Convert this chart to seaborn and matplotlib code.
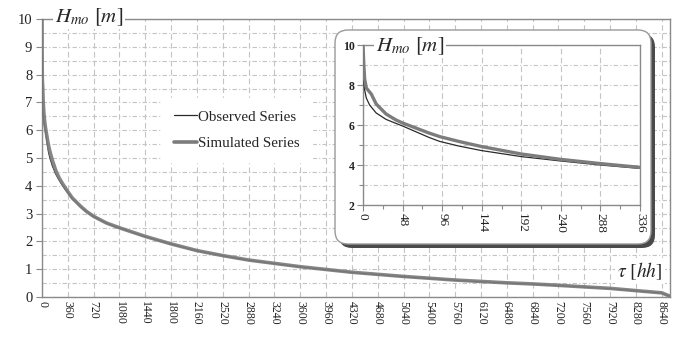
import matplotlib
matplotlib.use("Agg")
import numpy as np
import pandas as pd
import matplotlib.pyplot as plt
import seaborn as sns
from matplotlib.patches import FancyBboxPatch
from matplotlib.lines import Line2D
from matplotlib.ticker import MultipleLocator

# ---------------- data ----------------
hours = [0, 1, 2, 4, 8, 10, 16, 28, 40, 48, 80, 93, 116, 144, 192, 240, 288, 336,
         360, 420, 540, 620, 720, 900, 1080, 1440, 1800, 2160, 2520, 2880, 3240,
         3600, 4320, 5040, 5760, 6480, 6840, 7200, 7920, 8280, 8640, 8760]
observed = [8.67, 8.1, 7.75, 7.35, 7.0, 6.9, 6.6, 6.28, 6.08, 5.95, 5.38, 5.18, 4.95,
            4.72, 4.42, 4.2, 4.0, 3.83,
            3.75, 3.54, 3.24, 3.07, 2.89, 2.65, 2.48, 2.17, 1.9, 1.66, 1.48, 1.32, 1.2,
            1.08, 0.88, 0.73, 0.6, 0.5, 0.46, 0.41, 0.3, 0.22, 0.14, 0.02]
simulated = [10.0, 9.0, 8.3, 7.85, 7.65, 7.55, 7.05, 6.55, 6.25, 6.1, 5.6, 5.42, 5.18,
             4.92, 4.55, 4.28, 4.07, 3.88,
             3.79, 3.57, 3.26, 3.08, 2.9, 2.66, 2.49, 2.18, 1.91, 1.67, 1.49, 1.33, 1.21,
             1.09, 0.89, 0.74, 0.61, 0.51, 0.47, 0.42, 0.31, 0.23, 0.15, 0.02]
series_names = ["Observed Series", "Simulated Series"]
main_xticks = list(range(0, 8641, 360))
main_yticks = list(range(0, 11))
inset_xticks = list(range(0, 337, 48))
inset_yticks = [2, 4, 6, 8, 10]
y_label = r"$H_{mo}\ [m]$"
x_label = r"$\tau\ [hh]$"

# ---------------- style ----------------
sns.set_style("white")
plt.rcParams['font.family'] = ['Liberation Serif', 'DejaVu Serif']
plt.rcParams['mathtext.fontset'] = 'stix'

n = len(hours)
df = pd.DataFrame({
    "hours": hours * 2,
    "H": observed + simulated,
    "series": [series_names[0]] * n + [series_names[1]] * n,
})
palette = {series_names[0]: "#2a2a2a", series_names[1]: "#7c7c7c"}
widths = {series_names[0]: 0.9, series_names[1]: 2.6}
order = [series_names[0], series_names[1]]  # observed first, simulated on top

W, H = 683, 338
fig = plt.figure(figsize=(W / 100, H / 100), dpi=100)
fig.patch.set_facecolor("white")

spine_col = "#8a8a8a"
grid_col = "#c4c4c4"

# ---------------- main axes ----------------
ax = fig.add_axes([42 / W, 41 / H, 628.4 / W, 278 / H])
for name in order:
    sns.lineplot(data=df[df.series == name], x="hours", y="H", color=palette[name],
                 linewidth=widths[name], ax=ax, legend=False, zorder=3,
                 alpha=0.92 if name == series_names[1] else 1.0)
ax.set_xlim(0, 8760)
ax.set_ylim(0, 10)
ax.set_xticks(main_xticks)
ax.set_yticks(main_yticks)
ax.yaxis.set_minor_locator(MultipleLocator(0.5))
ax.set_xlabel("")
ax.set_ylabel("")
ax.grid(axis="x", which="major", color=grid_col, ls=(0, (5, 3)), lw=0.8)
ax.grid(axis="y", which="both", color=grid_col, ls=(0, (4, 2, 1, 2)), lw=0.8)
ax.tick_params(axis="x", labelrotation=-90, labelsize=8.5, length=0, pad=3, colors="#222222")
ax.tick_params(axis="y", which="major", labelsize=10.5, length=4, width=0.8, color=spine_col,
               pad=3, labelcolor="#222222", left=True)
ax.tick_params(axis="y", which="minor", length=0)
for s in ax.spines.values():
    s.set_color(spine_col)
    s.set_linewidth(1.0)

handles = [Line2D([], [], color=palette[series_names[0]], lw=widths[series_names[0]]),
           Line2D([], [], color=palette[series_names[1]], lw=widths[series_names[1]])]
leg = ax.legend(handles, series_names, loc="center", bbox_to_anchor=(0.31, 0.60),
                frameon=True, fancybox=False, facecolor="white", edgecolor="white",
                fontsize=10.8, handlelength=1.55, handletextpad=0.08, labelspacing=0.87,
                borderpad=0.8, framealpha=1.0)
leg.set_zorder(4)

fig.text(89 / W, 1 - 17 / H, y_label, ha="center", va="center", fontsize=15,
         bbox=dict(facecolor="white", edgecolor="none", pad=1.0), zorder=3)
fig.text(640 / W, 1 - 271 / H, x_label, ha="center", va="center", fontsize=14,
         bbox=dict(facecolor="white", edgecolor="none", pad=1.5), zorder=3)

# ---------------- inset box with shadow ----------------
bx0, by0, bw, bh = 335 / 100, (H - 244) / 100, 316 / 100, 214 / 100
shadow = FancyBboxPatch((bx0 + 0.04, by0 - 0.04), bw, bh,
                        boxstyle="round,pad=0,rounding_size=0.13",
                        transform=fig.dpi_scale_trans, facecolor="#4a4a4a",
                        edgecolor="none", zorder=2)
box = FancyBboxPatch((bx0, by0), bw, bh, boxstyle="round,pad=0,rounding_size=0.13",
                     transform=fig.dpi_scale_trans, facecolor="white",
                     edgecolor="#9a9a9a", lw=1.0, zorder=3)
fig.add_artist(shadow)
fig.add_artist(box)

# ---------------- inset axes ----------------
ax2 = fig.add_axes([363 / W, 133 / H, 277 / W, 160 / H])
ax2.set_zorder(5)
ax2.set_facecolor("white")
sub = df[df.hours <= 336]
for name in order:
    sns.lineplot(data=sub[sub.series == name], x="hours", y="H", color=palette[name],
                 linewidth=2.4 if name == series_names[1] else widths[name],
                 ax=ax2, legend=False, zorder=3)
ax2.set_xlim(0, 336)
ax2.set_ylim(2, 10)
ax2.set_xticks(inset_xticks)
ax2.set_yticks(inset_yticks)
ax2.xaxis.set_minor_locator(MultipleLocator(24))
ax2.yaxis.set_minor_locator(MultipleLocator(1))
ax2.set_xlabel("")
ax2.set_ylabel("")
ax2.grid(axis="x", which="major", color=grid_col, ls=(0, (5, 3)), lw=0.8)
ax2.grid(axis="y", which="both", color=grid_col, ls=(0, (4, 2, 1, 2)), lw=0.8)
ax2.tick_params(axis="x", which="major", labelrotation=-90, labelsize=9.5, length=4,
                width=0.8, color=spine_col, pad=2, labelcolor="#222222", bottom=True)
ax2.tick_params(axis="x", which="minor", length=3, width=0.8, color=spine_col, bottom=True)
ax2.tick_params(axis="y", which="major", labelsize=8.5, length=4, width=0.8,
                color=spine_col, pad=2, labelcolor="#222222", left=True)
ax2.tick_params(axis="y", which="minor", length=3, width=0.8, color=spine_col, left=True)
for lab in ax2.get_yticklabels():
    lab.set_fontweight("bold")
for s in ax2.spines.values():
    s.set_color(spine_col)
    s.set_linewidth(1.0)

t2 = fig.text(410 / W, 1 - 46 / H, y_label, ha="center", va="center", fontsize=15,
              bbox=dict(facecolor="white", edgecolor="none", pad=1.0))
t2.set_zorder(6)

fig.savefig("out.png", dpi=100, facecolor="white")
